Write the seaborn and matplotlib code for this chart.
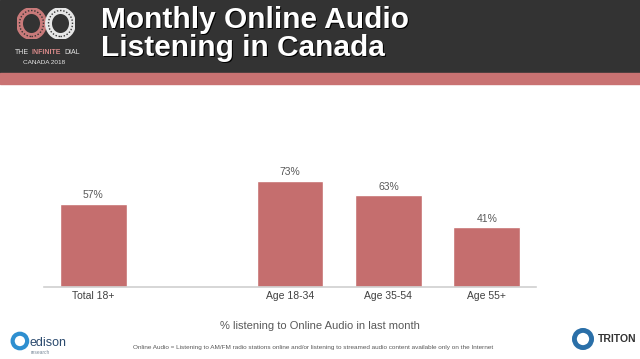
import matplotlib
matplotlib.use("Agg")
import matplotlib.pyplot as plt
import seaborn as sns
import pandas as pd
from matplotlib.patches import Rectangle, Circle, Ellipse

categories = ["Total 18+", " ", "Age 18-34", "Age 35-54", "Age 55+"]
values = [57, None, 73, 63, 41]
labels = ["57%", "", "73%", "63%", "41%"]

sns.set_theme(style="white")
plt.rcParams['font.family'] = ['Liberation Sans', 'DejaVu Sans']

fig = plt.figure(figsize=(6.4, 3.59), dpi=100)
W, H = 640, 359

def fx(x): return x / W
def fy(y): return 1 - y / H

# header
fig.patches.append(Rectangle((0, fy(72.5)), 1, 72.5 / H, transform=fig.transFigure,
                             color="#333333", zorder=-5))
fig.patches.append(Rectangle((0, fy(84)), 1, 11.5 / H, transform=fig.transFigure,
                             color="#c97272", zorder=-5))

# logo (simple rings)
lax = fig.add_axes([fx(17), fy(39), 58 / W, 31 / H])
lax.set_xlim(0, 58); lax.set_ylim(0, 31); lax.axis("off")
for cx, col in [(14.5, "#c97a7a"), (43.5, "#e6e6e6")]:
    lax.add_patch(Ellipse((cx, 15.5), 24, 26, fill=False, lw=5, ec=col))
    lax.add_patch(Ellipse((cx, 15.5), 24, 26, fill=False, lw=1.0, ec="#333333", ls=(0, (1, 1.3))))

fig.text(fx(29), fy(52), "THE", color="#e6e6e6", fontsize=5, va="center", ha="right")
fig.text(fx(46.5), fy(52), "INFINITE", color="#d98a8a", fontsize=5, va="center", ha="center", fontweight="bold")
fig.text(fx(64), fy(52), "DIAL", color="#e6e6e6", fontsize=5, va="center", ha="left")
fig.text(fx(44), fy(62), "CANADA 2018", color="#e6e6e6", fontsize=4.6, va="center", ha="center")

# title
for dx, dy, col in [(1.2, 1.2, "#000000"), (0, 0, "#ffffff")]:
    fig.text(fx(101 + dx), fy(27.5 + dy), "Monthly Online Audio", color=col,
             fontsize=21.5, fontweight="bold", va="baseline", ha="left")
    fig.text(fx(101 + dx), fy(55.5 + dy), "Listening in Canada", color=col,
             fontsize=21.5, fontweight="bold", va="baseline", ha="left")

# chart
ax = fig.add_axes([fx(44), fy(286.7), fx(536 - 44), (286.7 - 170.5) / H])
df = pd.DataFrame({"cat": categories, "val": [v if v is not None else 0 for v in values]})
sns.barplot(data=df, x="cat", y="val", color="#c56e6e", saturation=1, width=0.678, ax=ax)
ax.set_xlim(-0.5, 4.5)
ax.set_ylim(0, 80)
for i, (v, t) in enumerate(zip(values, labels)):
    if v is not None:
        ax.text(i, v + 2.5, t, ha="center", va="bottom", fontsize=7.5, color="#595959")
ax.set_xlabel(""); ax.set_ylabel("")
ax.set_yticks([])
ax.tick_params(axis="x", length=0, labelsize=7.5, labelcolor="#404040", pad=3)
for s in ["top", "right", "left"]:
    ax.spines[s].set_visible(False)
ax.spines["bottom"].set_color("#d0d0d0")
ax.spines["bottom"].set_linewidth(1.2)
ax.patch.set_alpha(0)

fig.text(fx(320), fy(326), "% listening to Online Audio in last month", ha="center", va="center",
         fontsize=8, color="#595959")
fig.text(fx(313), fy(348), "Online Audio = Listening to AM/FM radio stations online and/or listening to streamed audio content available only on the Internet",
         ha="center", va="center", fontsize=4.6, color="#595959")

# footer logos as text
fig.text(fx(30), fy(343), "edison", ha="left", va="center", fontsize=9, color="#2b4a6e")
fig.text(fx(31), fy(352), "research", ha="left", va="center", fontsize=3.5, color="#7a8a9a")
lg = fig.add_axes([fx(10), fy(352), 22 / W, 22 / H])
lg.axis("off"); lg.set_xlim(0, 1); lg.set_ylim(0, 1)
lg.add_patch(Circle((0.45, 0.5), 0.33, fill=False, lw=3, ec="#2e8fd0"))
fig.text(fx(598), fy(339), "TRITON", ha="left", va="center", fontsize=7.5, color="#333333",
         fontweight="bold")
tg = fig.add_axes([fx(570), fy(352), 26 / W, 26 / H])
tg.axis("off"); tg.set_xlim(0, 1); tg.set_ylim(0, 1)
tg.add_patch(Circle((0.5, 0.5), 0.33, fill=False, lw=3.5, ec="#2a6fa8"))

fig.savefig("out.png", dpi=100)
